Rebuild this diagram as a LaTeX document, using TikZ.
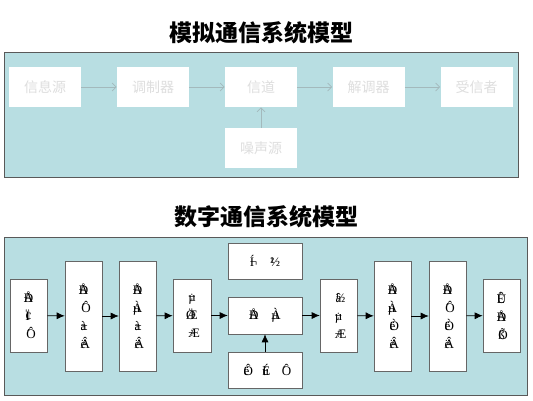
\documentclass[tikz,border=0pt]{standalone}
\usepackage{fontspec}
\setmainfont{Liberation Serif}
\newfontfamily\cjk{Noto Sans CJK SC}
\usepackage{tikz}
\usetikzlibrary{arrows.meta}
\usepackage{xcolor}
\definecolor{panelblue}{HTML}{B8DEE2}
\definecolor{fadetext}{HTML}{DEDEDE}
\definecolor{fadearrow}{HTML}{A3B9BC}
\newcommand{\gb}[2]{\makebox[0pt][l]{#1}#2}

\begin{document}
\begin{tikzpicture}[x=1pt, y=-1pt, thick,
  panel/.style = {draw=black!65, fill=panelblue, line width=0.8pt},
  soft/.style = {fill=white, inner sep=0pt, minimum width=72pt, minimum height=40pt,
    text=fadetext, font=\cjk\fontsize{14}{14}\selectfont},
  blk/.style = {draw=black!60, fill=white, line width=0.6pt, inner sep=0pt,
    minimum width=37pt, align=center, font=\fontsize{13}{18}\selectfont},
  title/.style = {font=\cjk\bfseries\fontsize{23}{23}\selectfont},
  pale/.style = {-{Straight Barb[length=4pt,width=8pt]}, fadearrow, line width=0.7pt},
  flow/.style = {-{Latex[length=8pt,width=7pt]}, line width=0.7pt}]
\useasboundingbox (0,0) rectangle (533,400);
\fill[white] (0,0) rectangle (533,400);

% analog model
\node[title] (t1) at (261,33) {模拟通信系统模型};
\draw[panel] (4,52) rectangle (518,177);
\node[soft] (src) at (45,87) {信息源};
\node[soft] (mod) at (153,87) {调制器};
\node[soft] (ch) at (261,87) {信道};
\node[soft] (dem) at (368.5,87) {解调器};
\node[soft] (rcv) at (476.5,87) {受信者};
\node[soft] (ns) at (261,148) {噪声源};
\draw[pale] (src) -- (mod);
\draw[pale] (mod) -- (ch);
\draw[pale] (ch) -- (dem);
\draw[pale] (dem) -- (rcv);
\draw[pale] (ns) -- (ch);

% digital model
\node[title] (t2) at (266,217) {数字通信系统模型};
\draw[panel] (4,237) rectangle (527,395);
\node[blk, minimum height=73pt] (1) at (28.5,315.5) {\gb{Ð}{Å}\\\gb{Ï}{¢}\\\gb{Ô}{´}};
\node[blk, minimum height=110pt] (2) at (83.5,316) {\gb{Ð}{Å}\\\gb{Ô}{´}\\\gb{±}{à}\\\gb{Â}{ë}};
\node[blk, minimum height=110pt] (3) at (137.5,316) {\gb{Ð}{Å}\\\gb{µ}{À}\\\gb{±}{à}\\\gb{Â}{ë}};
\node[blk, minimum height=73pt, minimum width=38pt] (4) at (192,315.5) {\gb{µ}{÷}\\\gb{Ö}{Æ}\\\gb{Æ}{÷}};
\node[blk, minimum height=37pt, minimum width=74pt] (5) at (265,315.5) {\gb{Ð}{Å}\quad\gb{µ}{À}};
\node[blk, minimum height=36pt, minimum width=74pt] (sy) at (265,261) {\gb{Í}{¬}\quad\gb{²}{½}};
\node[blk, minimum height=36pt, minimum width=74pt] (no) at (265,370) {\gb{Ô}{ë}\quad\gb{É}{ù}\quad\gb{Ô}{´}};
\node[blk, minimum height=73pt] (6) at (338.5,315.5) {\gb{½}{â}\\\gb{µ}{÷}\\\gb{Æ}{÷}};
\node[blk, minimum height=110pt] (7) at (392.5,316) {\gb{Ð}{Å}\\\gb{µ}{À}\\\gb{Ò}{ë}\\\gb{Â}{ë}};
\node[blk, minimum height=110pt] (8) at (447.5,316) {\gb{Ð}{Å}\\\gb{Ô}{´}\\\gb{Ò}{ë}\\\gb{Â}{ë}};
\node[blk, minimum height=73pt] (9) at (501.5,315.5) {\gb{Ê}{Ü}\\\gb{Ð}{Å}\\\gb{Õ}{ß}};
\draw[flow] (1) -- (2);
\draw[flow] (2) -- (3);
\draw[flow] (3) -- (4);
\draw[flow] (4) -- (5);
\draw[flow] (5) -- (6);
\draw[flow] (6) -- (7);
\draw[flow] (7) -- (8);
\draw[flow] (8) -- (9);
\draw[flow] (no) -- (5);

\end{tikzpicture}
\end{document}
